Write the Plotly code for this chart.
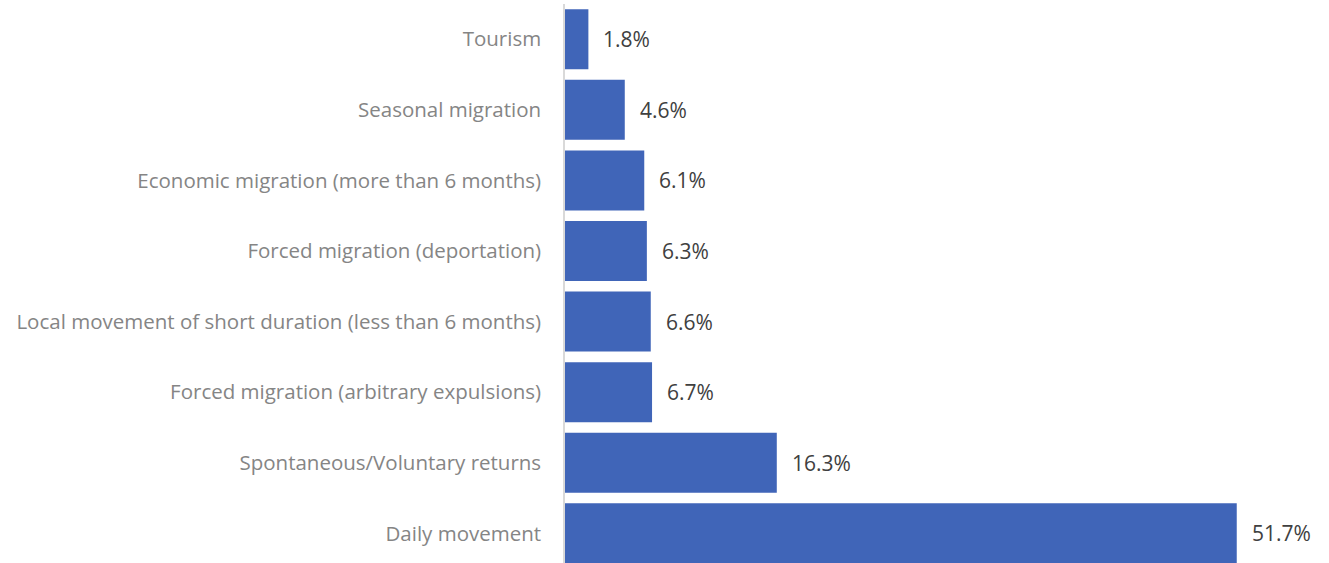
import plotly.graph_objects as go

categories = ["Daily movement", "Spontaneous/Voluntary returns", "Forced migration (arbitrary expulsions)",
              "Local movement of short duration (less than 6 months)", "Forced migration (deportation)",
              "Economic migration (more than 6 months)", "Seasonal migration", "Tourism"]
values = [51.7, 16.3, 6.7, 6.6, 6.3, 6.1, 4.6, 1.8]
labels = [f"{v:.1f}%" for v in values]

FONT = "Open Sans"
fig = go.Figure(go.Bar(
    x=values, y=categories, orientation="h",
    marker=dict(color="#4065B8", line=dict(width=0)),
    width=0.85, hoverinfo="skip",
))
for c, v, t in zip(categories, values, labels):
    fig.add_annotation(x=v, y=c, text=t, showarrow=False, xanchor="left", xshift=13,
                       font=dict(family=FONT, size=21, color="#404040"))

fig.update_layout(
    width=1329, height=563,
    margin=dict(l=565, r=0, t=4, b=0),
    paper_bgcolor="white", plot_bgcolor="white",
    showlegend=False,
    xaxis=dict(range=[0, 58.8], visible=False, showgrid=False, zeroline=False),
    yaxis=dict(type="category", range=[-0.42, 7.5], showgrid=False, zeroline=False,
               showline=True, linecolor="#D9D9D9", linewidth=1.5,
               ticks="outside", ticklen=18, tickcolor="rgba(0,0,0,0)",
               tickfont=dict(family=FONT, size=20.5, color="#858585")),
)
fig.write_html("out.html", config={"displayModeBar": False},
               post_script="document.body.style.margin='0';")
